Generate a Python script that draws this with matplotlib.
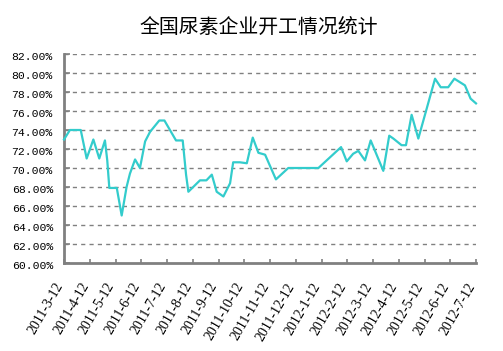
import matplotlib
matplotlib.use("Agg")
import matplotlib.pyplot as plt
from matplotlib.transforms import ScaledTranslation

# x positions in month units (0 = 2011-3-12), values in %
x_pos = [0.0, 0.23, 0.65, 0.88, 1.14, 1.37, 1.59, 1.68, 1.76, 2.05,
         2.24, 2.43, 2.56, 2.76, 2.95, 3.15, 3.34, 3.70, 3.90, 4.35,
         4.61, 4.74, 4.83, 5.28, 5.53, 5.74, 5.93, 6.19, 6.45, 6.57,
         6.83, 7.10, 7.33, 7.55, 7.81, 8.23, 8.71, 9.88, 10.76, 10.98,
         11.23, 11.43, 11.69, 11.91, 12.40, 12.63, 12.79, 13.11, 13.28, 13.50,
         13.76, 14.41, 14.63, 14.92, 15.16, 15.57, 15.79, 16.0]
values = [73.0, 74.0, 74.0, 71.0, 73.0, 71.0, 72.9, 70.8, 67.9, 67.9,
          65.0, 68.0, 69.4, 70.9, 70.0, 72.8, 73.8, 75.0, 75.0, 72.9,
          72.9, 69.3, 67.5, 68.7, 68.7, 69.3, 67.5, 67.0, 68.4, 70.6,
          70.6, 70.5, 73.2, 71.6, 71.4, 68.8, 70.0, 70.0, 72.2, 70.7,
          71.5, 71.8, 70.8, 72.9, 69.7, 73.4, 73.1, 72.4, 72.4, 75.6,
          73.1, 79.4, 78.5, 78.5, 79.4, 78.7, 77.3, 76.8]
x_labels = ["2011-3-12", "2011-4-12", "2011-5-12", "2011-6-12", "2011-7-12",
            "2011-8-12", "2011-9-12", "2011-10-12", "2011-11-12", "2011-12-12",
            "2012-1-12", "2012-2-12", "2012-3-12", "2012-4-12", "2012-5-12",
            "2012-6-12", "2012-7-12"]
y_ticks = [60, 62, 64, 66, 68, 70, 72, 74, 76, 78, 80, 82]
title = "全国尿素企业开工情况统计"

fig = plt.figure(figsize=(5.03, 3.51), dpi=100)
ax = fig.add_axes([64/503, 1-263/351, (476-64)/503, (263-54)/351])

ax.plot(x_pos, values, color="#33CCCC", lw=1.6, clip_on=False, zorder=3)

ax.set_xlim(0, 16)
ax.set_ylim(60, 82)
ax.set_yticks(y_ticks)
ax.set_yticklabels([f"{v:.2f}%" for v in y_ticks], family="Liberation Mono", fontsize=8.2)
ax.set_xticks(range(len(x_labels)))
ax.set_xticklabels(x_labels, rotation=60, ha="right", va="center",
                   rotation_mode="anchor", family="Liberation Serif", fontsize=10)
ax.tick_params(axis="x", direction="in", length=3, width=1.2, color="#808080", pad=15)
ax.tick_params(axis="y", direction="in", length=4, width=1.2, color="#808080", pad=8)

shift = ScaledTranslation(-4/100, 0, fig.dpi_scale_trans)
for lbl in ax.get_xticklabels():
    lbl.set_transform(lbl.get_transform() + shift)
shift_y = ScaledTranslation(0, -2/100, fig.dpi_scale_trans)
for lbl in ax.get_yticklabels():
    lbl.set_transform(lbl.get_transform() + shift_y)

for v in y_ticks[1:]:
    ax.axhline(v, color="#808080", lw=1.0, ls=(0, (3, 3)), zorder=0)

for s in ["top", "right"]:
    ax.spines[s].set_visible(False)
for s in ["left", "bottom"]:
    ax.spines[s].set_color("#808080")
    ax.spines[s].set_linewidth(2)

fig.text(259/503, 1-28/351, title, ha="center", va="center",
         family=["Noto Sans CJK SC", "DejaVu Sans"], fontsize=14.3)

fig.savefig("out.png", dpi=100)
